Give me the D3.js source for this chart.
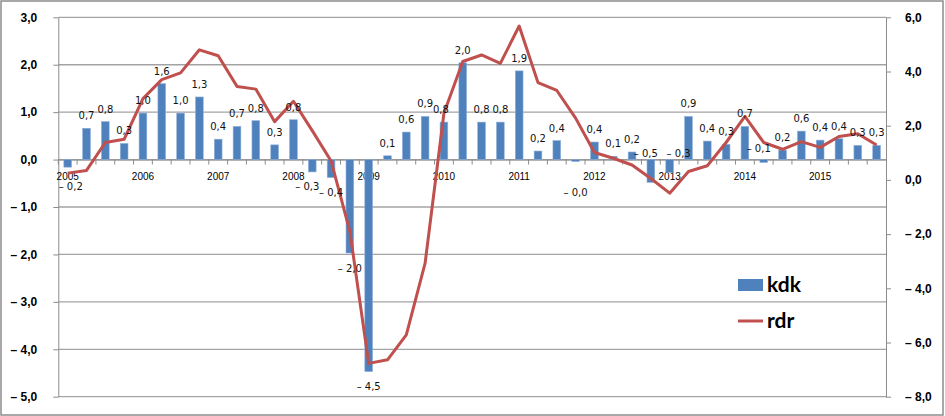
<!DOCTYPE html>
<html>
<head>
<meta charset="utf-8">
<script src="https://cdn.jsdelivr.net/npm/d3@7"></script>
<style>
  body { margin: 0; background: #fff; }
  svg { display: block; font-family: "DejaVu Sans", sans-serif; }
  .axis path, .axis line { stroke: #8c8c8c; }
  .y.axis text { font-size: 12px; font-weight: bold; fill: #000; }
  .x.axis text { font-size: 10px; fill: #000; }
  .dlabel { font-size: 10px; fill: #111; }
  .legend text { font-family: Lato, "DejaVu Sans", sans-serif; font-size: 21px; font-weight: bold; }
</style>
</head>
<body>
<div id="vis-container"><svg width="945" height="416"></svg></div>
<script>
var years = [2005, 2006, 2007, 2008, 2009, 2010, 2011, 2012, 2013, 2014, 2015];
var quarterNames = ['Q1', 'Q2', 'Q3', 'Q4'];
var quarters = [];
years.forEach(function(y) { quarterNames.forEach(function(q) { quarters.push(y + ' ' + q); }); });

// kdk (bars, left axis)
var kdk = [-0.16, 0.66, 0.80, 0.34, 0.98, 1.60, 0.98, 1.32, 0.43, 0.70, 0.82, 0.31,
           0.84, -0.26, -0.38, -1.97, -4.47, 0.08, 0.58, 0.91, 0.79, 2.04, 0.79, 0.79,
           1.87, 0.18, 0.40, -0.04, 0.37, 0.07, 0.16, -0.48, -0.27, 0.91, 0.39, 0.32,
           0.70, -0.06, 0.20, 0.60, 0.41, 0.44, 0.30, 0.30];

// rdr (line, right axis)
var rdr = [0.25, 0.35, 1.38, 1.50, 3.00, 3.70, 3.95, 4.80, 4.58, 3.45, 3.35, 2.15,
           2.90, 1.82, 0.70, -1.90, -6.77, -6.64, -5.72, -3.07, 2.46, 4.37, 4.61, 4.30,
           5.68, 3.59, 3.30, 2.28, 1.01, 0.80, 0.55, 0.05, -0.49, 0.31, 0.52, 1.38,
           2.34, 1.38, 1.13, 1.41, 1.20, 1.60, 1.70, 1.29];

var leftTicks = [-5, -4, -3, -2, -1, 0, 1, 2, 3];
var rightTicks = [-8, -6, -4, -2, 0, 2, 4, 6];

var margin = { top: 17.3, left: 58.3, bottom: 19.3, right: 59 };
var svg = d3.select('#vis-container svg');
var svgWidth = 945, svgHeight = 416;

var fmt = function(v) {
    var s = Math.abs(v).toFixed(1).replace('.', ',');
    return (v < 0 ? '\u2013 ' : '') + s;
};

// outer chart border
svg.append('rect')
    .attr('x', 1).attr('y', 1)
    .attr('width', 942).attr('height', 414)
    .attr('fill', 'none').attr('stroke', '#8c8c8c').attr('stroke-width', 1.5);

/////////////////////////////////////////////////////////////////////
//                        SCALES                                   //
/////////////////////////////////////////////////////////////////////
var xScale = d3.scaleBand()
    .domain(quarters)
    .range([margin.left, svgWidth - margin.right])
    .paddingInner(0.59)
    .paddingOuter(0.295);

var yLeft = d3.scaleLinear()
    .domain([-5, 3])
    .range([svgHeight - margin.bottom, margin.top]);

var yRight = d3.scaleLinear()
    .domain([-8, 6])
    .range([svgHeight - margin.bottom, margin.top]);

/////////////////////////////////////////////////////////////////////
//                        GRIDLINES                                //
/////////////////////////////////////////////////////////////////////
svg.append('g').selectAll('line')
    .data(leftTicks)
    .enter().append('line')
    .attr('x1', margin.left).attr('x2', svgWidth - margin.right)
    .attr('y1', function(d) { return yLeft(d); })
    .attr('y2', function(d) { return yLeft(d); })
    .attr('stroke', '#a3a3a3').attr('stroke-width', 1.3);

/////////////////////////////////////////////////////////////////////
//                        AXES                                     //
/////////////////////////////////////////////////////////////////////
svg.append('g')
    .attr('class', 'y axis')
    .attr('transform', 'translate(' + margin.left + ',0)')
    .call(d3.axisLeft(yLeft).tickValues(leftTicks).tickSize(5).tickPadding(16).tickFormat(fmt).tickSizeOuter(0));

svg.append('g')
    .attr('class', 'y axis')
    .attr('transform', 'translate(' + (svgWidth - margin.right) + ',0)')
    .call(d3.axisRight(yRight).tickValues(rightTicks).tickSize(5).tickPadding(14).tickFormat(fmt).tickSizeOuter(0));

var zeroY = yLeft(0);
svg.append('g')
    .attr('class', 'x axis')
    .attr('transform', 'translate(0,' + zeroY + ')')
    .call(d3.axisBottom(xScale).tickSize(0).tickPadding(13.5)
        .tickFormat(function(d) { return d.slice(5) === 'Q1' ? d.slice(0, 4) : ''; }))
    .call(g => g.select('.domain').attr('stroke', '#8c8c8c'));

// small tick marks between the quarters
var half = xScale.step() * xScale.paddingInner() / 2;
svg.append('g').selectAll('line')
    .data(quarters)
    .enter().append('line')
    .attr('x1', function(d) { return xScale(d) - half; })
    .attr('x2', function(d) { return xScale(d) - half; })
    .attr('y1', zeroY).attr('y2', zeroY + 5)
    .attr('stroke', '#8c8c8c');

/////////////////////////////////////////////////////////////////////
//                        BARS + LINE                              //
/////////////////////////////////////////////////////////////////////
svg.append('g').selectAll('rect')
    .data(kdk)
    .enter().append('rect')
    .attr('x', function(d, i) { return xScale(quarters[i]); })
    .attr('width', xScale.bandwidth())
    .attr('y', function(d) { return yLeft(Math.max(0, d)); })
    .attr('height', function(d) { return Math.abs(yLeft(d) - yLeft(0)); })
    .attr('fill', '#4f81bd')
    .attr('stroke', '#8fb0d9').attr('stroke-width', 0.6);

var line = d3.line()
    .x(function(d, i) { return xScale(quarters[i]) + xScale.bandwidth() / 2; })
    .y(function(d) { return yRight(d); });

svg.append('path')
    .datum(rdr)
    .attr('d', line)
    .attr('fill', 'none')
    .attr('stroke', '#c0504d')
    .attr('stroke-width', 3)
    .attr('stroke-linejoin', 'round');

/////////////////////////////////////////////////////////////////////
//                        DATA LABELS                              //
/////////////////////////////////////////////////////////////////////
// hand-moved labels, like in the sheet
var labelNudge = { 0: [3, 4], 13: [-5, 0], 20: [-3, 0], 27: [0, 16],
                   31: [-5, -43.7], 32: [9, -33.7], 37: [-5, -28.7] };

svg.append('g').selectAll('text')
    .data(kdk)
    .enter().append('text')
    .attr('class', 'dlabel')
    .attr('text-anchor', 'middle')
    .attr('dy', '0.35em')
    .attr('x', function(d, i) {
        var n = labelNudge[i] || [0, 0];
        return xScale(quarters[i]) + xScale.bandwidth() / 2 + n[0];
    })
    .attr('y', function(d, i) {
        var n = labelNudge[i] || [0, 0];
        var base = d >= 0 ? yLeft(d) - 12.5 : yLeft(d) + 15;
        return base + n[1];
    })
    .text(function(d) { return fmt(d); });

/////////////////////////////////////////////////////////////////////
//                        LEGEND                                   //
/////////////////////////////////////////////////////////////////////
var legend = svg.append('g').attr('class', 'legend');
legend.append('rect')
    .attr('x', 738).attr('y', 279).attr('width', 25).attr('height', 12)
    .attr('fill', '#4f81bd');
legend.append('text')
    .attr('x', 767).attr('y', 285).attr('dy', '0.35em')
    .text('kdk');
legend.append('line')
    .attr('x1', 738).attr('x2', 763).attr('y1', 321).attr('y2', 321)
    .attr('stroke', '#c0504d').attr('stroke-width', 3);
legend.append('text')
    .attr('x', 767).attr('y', 321).attr('dy', '0.35em')
    .text('rdr');
</script>
</body>
</html>
